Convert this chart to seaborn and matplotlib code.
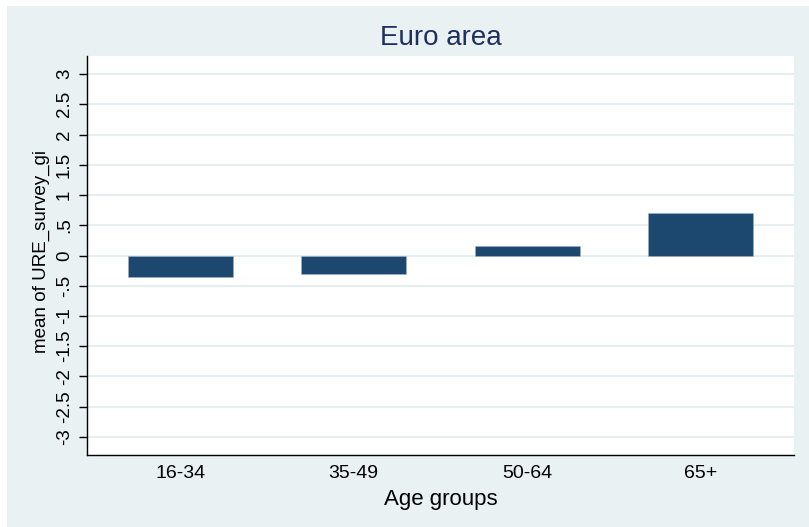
import numpy as np
import pandas as pd
import matplotlib
matplotlib.use('Agg')
import matplotlib.pyplot as plt
from matplotlib.patches import Rectangle
import seaborn as sns

# data
age_groups = ['16-34', '35-49', '50-64', '65+']
mean_values = [-0.36, -0.30, 0.15, 0.70]
y_ticks = np.arange(-3, 3.01, 0.5)
y_tick_labels = ['-3', '-2.5', '-2', '-1.5', '-1', '-.5', '0', '.5', '1', '1.5', '2', '2.5', '3']

bg = '#e9f1f3'
bar_color = '#1c4870'

sns.set_theme(style='white')
plt.rcParams['font.family'] = ['Liberation Sans', 'DejaVu Sans']

fig = plt.figure(figsize=(8.09, 5.27), dpi=100, facecolor=bg)
# thin white strips at the top and left edge
fig.patches.append(Rectangle((0, 0), 7 / 809, 1, transform=fig.transFigure,
                             facecolor='white', edgecolor='none', zorder=-10))
fig.patches.append(Rectangle((0, 1 - 6 / 527), 1, 6 / 527, transform=fig.transFigure,
                             facecolor='white', edgecolor='none', zorder=-10))

ax = fig.add_axes([87 / 809, 72 / 527, 707 / 809, 399 / 527])
ax.set_facecolor('white')

df = pd.DataFrame({'age': age_groups, 'value': mean_values})
sns.barplot(data=df, x='age', y='value', color=bar_color, saturation=1,
            width=0.605, errorbar=None, ax=ax, zorder=3,
            edgecolor='#9fb3c6', linewidth=0.4)

ax.set_xlim(-0.536, 3.536)
ax.set_ylim(-3.3, 3.3)
ax.set_yticks(y_ticks)
ax.set_yticklabels(y_tick_labels, rotation=90, va='center', fontsize=13.5)
ax.tick_params(axis='y', length=6, width=1, color='black', pad=4, left=True)
ax.tick_params(axis='x', length=0, pad=7, labelsize=14)
ax.grid(axis='y', color='#e6eef1', linewidth=1.5, zorder=0)
ax.set_axisbelow(True)

for side in ['top', 'right']:
    ax.spines[side].set_visible(False)
for side in ['left', 'bottom']:
    ax.spines[side].set_color('black')
    ax.spines[side].set_linewidth(1)

ax.set_ylabel('mean of URE_survey_gi', fontsize=13.5, color='black')
ax.yaxis.set_label_coords(-0.052, 0.51)
ax.set_xlabel('Age groups', fontsize=16, color='black', labelpad=5)
ax.set_title('Euro area', fontsize=20, color='#1f2f5f', pad=8)

for lbl in ax.get_xticklabels() + ax.get_yticklabels():
    lbl.set_color('black')

fig.savefig('out.png', dpi=100, facecolor=fig.get_facecolor())
